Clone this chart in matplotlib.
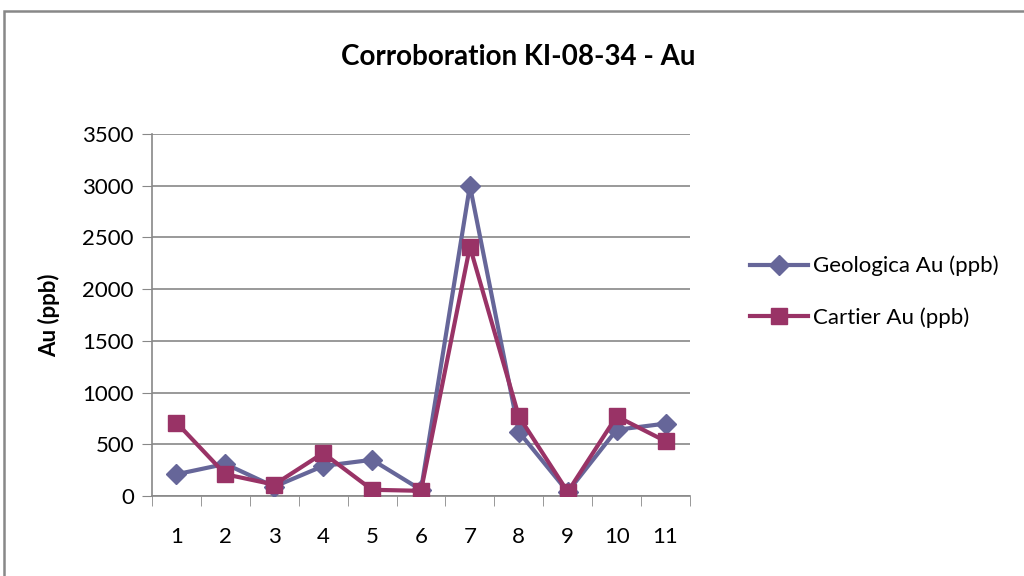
import numpy as np
import matplotlib.pyplot as plt
from matplotlib.patches import Rectangle

plt.rcParams['font.family'] = ['Lato', 'DejaVu Sans']

samples = [str(i) for i in range(1, 12)]
geologica = [210, 310, 90, 290, 350, 60, 3000, 620, 40, 640, 700]
cartier = [710, 210, 110, 415, 60, 50, 2410, 770, 40, 770, 530]

W, H = 1024, 576
fig = plt.figure(figsize=(W / 100, H / 100), dpi=100)

# outer chart border (runs off the right/bottom edge like the original)
fig.patches.append(Rectangle((4 / W, -0.1), 1.2, 1 - 11 / H + 0.1,
                             transform=fig.transFigure, fill=False,
                             edgecolor='#888888', linewidth=1.8))

ax = fig.add_axes([152 / W, 1 - 496 / H, (690 - 152) / W, (496 - 134) / H])
x = np.arange(1, len(samples) + 1)

ax.plot(x, geologica, color='#666699', linewidth=3, marker='D', markersize=10,
        label='Geologica Au (ppb)', zorder=3)
ax.plot(x, cartier, color='#993366', linewidth=3, marker='s', markersize=11,
        label='Cartier Au (ppb)', zorder=4)

ax.set_xlim(0.5, len(samples) + 0.5)
ax.set_ylim(0, 3500)
ax.set_yticks(np.arange(0, 3501, 500))
ax.set_xticks(x)
ax.set_xticklabels(samples)
ax.set_xticks(np.arange(0.5, len(samples) + 1), minor=True)
ax.tick_params(axis='x', which='major', length=0, labelsize=16, pad=22)
ax.tick_params(axis='x', which='minor', length=7, color='#888888', direction='out')
ax.tick_params(axis='y', length=7, color='#888888', labelsize=16, direction='out', pad=6)
ax.grid(axis='y', color='#888888', linewidth=1.2)
ax.set_axisbelow(True)
for s in ['top', 'right']:
    ax.spines[s].set_visible(False)
for s in ['left', 'bottom']:
    ax.spines[s].set_color('#888888')
    ax.spines[s].set_linewidth(1.2)

ax.set_ylabel('Au (ppb)', fontsize=16, fontweight='bold', labelpad=16)
fig.text(518 / W, 1 - 57 / H, 'Corroboration KI-08-34 - Au', ha='center',
         va='center', fontsize=20, fontweight='bold')

ax.legend(loc='center left', bbox_to_anchor=(730 / W, 1 - 292 / H),
          bbox_transform=fig.transFigure, frameon=False, fontsize=16,
          handlelength=2.6, labelspacing=1.4, handletextpad=0.25)

fig.savefig('out.png', dpi=100)
